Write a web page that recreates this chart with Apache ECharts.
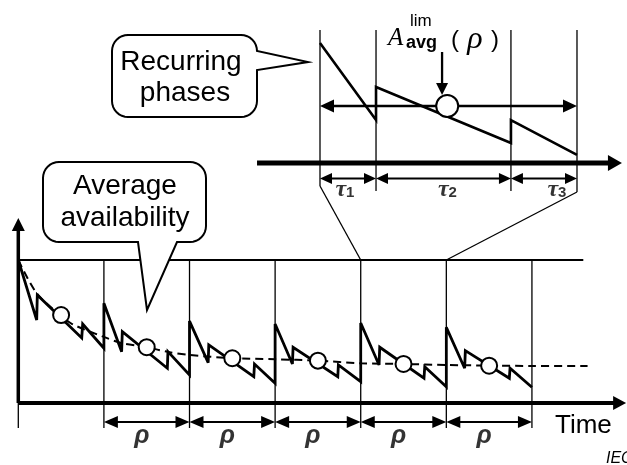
<!DOCTYPE html>
<html><head><meta charset="utf-8">
<script src="https://cdn.jsdelivr.net/npm/echarts@6/dist/echarts.min.js"></script>
<style>html,body{margin:0;padding:0;background:#fff}#c{width:627px;height:465px}</style>
</head><body><div id="c"></div>
<script>
// ---------------- data (time in units of the period rho, availability) ----------------
const periodBounds = [0, 1, 2, 3, 4, 5, 6];
const rhoLabels = ['ρ', 'ρ', 'ρ', 'ρ', 'ρ'];
const mainTime = [0, 0.215, 0.222, 0.741, 0.752, 1,
  1, 1.207, 1.215, 1.741, 1.748, 2,
  2, 2.218, 2.225, 2.751, 2.759, 3,
  3, 3.202, 3.210, 3.732, 3.739, 4,
  4, 4.214, 4.222, 4.739, 4.748, 5,
  5, 5.214, 5.222, 5.736, 5.744, 6];
const mainAvail = [1.000, 0.580, 0.755, 0.455, 0.552, 0.383,
  0.697, 0.359, 0.499, 0.243, 0.359, 0.196,
  0.573, 0.282, 0.406, 0.184, 0.273, 0.138,
  0.552, 0.273, 0.390, 0.184, 0.266, 0.149,
  0.559, 0.266, 0.390, 0.173, 0.254, 0.114,
  0.529, 0.243, 0.366, 0.173, 0.243, 0.110];
const avgTime = [0, 0.215, 0.49, 0.63, 1, 1.2, 1.5, 1.75, 2, 2.5, 3, 3.5, 4, 4.5, 5, 5.5, 6, 6.65];
const avgAvail = [1.0, 0.767, 0.615, 0.552, 0.462, 0.420, 0.390, 0.357, 0.336, 0.313, 0.306, 0.296, 0.278, 0.273, 0.266, 0.262, 0.259, 0.259];
const markTime = [0.5, 1.5, 2.5, 3.5, 4.5, 5.5];
const markAvail = [0.615, 0.390, 0.313, 0.296, 0.273, 0.261];
const topLevel = 1.0;
// inset: one recurring period
const insetTime = [0, 0.218, 0.218, 0.743, 0.743, 1];
const insetAvail = [1.0, 0.358, 0.633, 0.167, 0.358, 0.067];
const tauBounds = [0, 0.218, 0.743, 1];
const tauNames = ['1', '2', '3'];
const tauLabelTime = [0.097, 0.496, 0.922];
const insetAvgLevel = 0.475;
const insetMarkTime = 0.495;

// ---------------- layout constants ----------------
const FONT = "Liberation Sans";
const SERIF = "Liberation Serif";
const RHO_ARROW_Y = -0.133, RHO_LABEL_Y = -0.235, VLINE_BOTTOM = -0.175, YAXIS_TOP = 1.294, TOPLINE_END = 6.6, XAXIS_END = 7.1;
const INSET_VTOP = 1.108, INSET_VBOTTOM = [-0.192, -0.233, -0.233, -0.242];
const TAU_ARROW_Y = -0.129, TAU_LABEL_Y = -0.219, INSET_AXIS = [-0.245, 1.175];
const LABEL_ARROW = [0.475, 0.925, 0.567];

function arrowChildren(p1, p2, o) {
  const dx = p2[0] - p1[0], dy = p2[1] - p1[1], L = Math.hypot(dx, dy);
  const ux = dx / L, uy = dy / L, nx = -uy, ny = ux;
  const ch = [];
  let a = p1.slice(), b = p2.slice();
  const head = (tip, d) => {
    const bx = tip[0] - d[0] * o.hl, by = tip[1] - d[1] * o.hl;
    return { type: 'polygon', shape: { points: [tip, [bx + nx * o.hw, by + ny * o.hw], [bx - nx * o.hw, by - ny * o.hw]] }, style: { fill: '#000' } };
  };
  if (o.start) { ch.push(head(p1, [-ux, -uy])); a = [p1[0] + ux * o.hl * 0.8, p1[1] + uy * o.hl * 0.8]; }
  if (o.end) { ch.push(head(p2, [ux, uy])); b = [p2[0] - ux * o.hl * 0.8, p2[1] - uy * o.hl * 0.8]; }
  ch.unshift({ type: 'line', shape: { x1: a[0], y1: a[1], x2: b[0], y2: b[1] }, style: { stroke: '#000', lineWidth: o.lw } });
  return ch;
}
function arrowSeries(g, data, o, z) {
  return { type: 'custom', xAxisIndex: g, yAxisIndex: g, clip: false, silent: true, z: z || 5, data,
    renderItem(params, api) {
      const p1 = api.coord([api.value(0), api.value(1)]), p2 = api.coord([api.value(2), api.value(3)]);
      return { type: 'group', children: arrowChildren(p1, p2, o) };
    } };
}
function segSeries(g, data, lw, z) {
  return { type: 'custom', xAxisIndex: g, yAxisIndex: g, clip: false, silent: true, z: z || 1, data,
    renderItem(params, api) {
      const p1 = api.coord([api.value(0), api.value(1)]), p2 = api.coord([api.value(2), api.value(3)]);
      return { type: 'line', shape: { x1: p1[0], y1: p1[1], x2: p2[0], y2: p2[1] }, style: { stroke: '#000', lineWidth: lw } };
    } };
}

const rhoPairs = [], rhoCenters = [];
for (let i = 1; i < periodBounds.length - 1; i++) {
  rhoPairs.push([periodBounds[i], RHO_ARROW_Y, periodBounds[i + 1], RHO_ARROW_Y]);
  rhoCenters.push([(periodBounds[i] + periodBounds[i + 1]) / 2, RHO_LABEL_Y]);
}
const tauPairs = [];
for (let i = 0; i < tauBounds.length - 1; i++) tauPairs.push([tauBounds[i], TAU_ARROW_Y, tauBounds[i + 1], TAU_ARROW_Y]);

const series = [
  // ---- main chart ----
  segSeries(0, periodBounds.map(t => [t, topLevel, t, VLINE_BOTTOM]), 1.3, 1),
  segSeries(0, [[0, topLevel, TOPLINE_END, topLevel]], 2, 1),
  { type: 'line', xAxisIndex: 0, yAxisIndex: 0, symbol: 'none', smooth: 0.3, silent: true, z: 2,
    data: avgTime.map((t, i) => [t, avgAvail[i]]), lineStyle: { color: '#000', width: 2, type: [8, 5] } },
  { type: 'line', xAxisIndex: 0, yAxisIndex: 0, symbol: 'none', silent: true, z: 3,
    data: mainTime.map((t, i) => [t, mainAvail[i]]), lineStyle: { color: '#000', width: 2.8, join: 'miter', miterLimit: 4 } },
  { type: 'scatter', xAxisIndex: 0, yAxisIndex: 0, symbol: 'circle', symbolSize: 16, silent: true, z: 4,
    data: markTime.map((t, i) => [t, markAvail[i]]), itemStyle: { color: '#fff', borderColor: '#000', borderWidth: 2, opacity: 1 } },
  arrowSeries(0, [[0, 0, 0, YAXIS_TOP]], { lw: 3.5, hl: 13, hw: 6.5, end: true }, 6),
  arrowSeries(0, [[0, 0, XAXIS_END, 0]], { lw: 4, hl: 13, hw: 7, end: true }, 6),
  arrowSeries(0, rhoPairs, { lw: 2.2, hl: 14, hw: 6, start: true, end: true }, 5),
  { type: 'scatter', xAxisIndex: 0, yAxisIndex: 0, symbolSize: 1, silent: true, z: 5,
    data: rhoCenters, itemStyle: { color: 'rgba(0,0,0,0)' },
    label: { show: true, position: 'inside', offset: [-5, 0], formatter: p => rhoLabels[p.dataIndex],
      fontFamily: FONT, fontStyle: 'italic', fontWeight: 'bold', fontSize: 25, color: '#000' } },
  // ---- inset ----
  segSeries(1, tauBounds.map((t, i) => [t, INSET_VTOP, t, INSET_VBOTTOM[i]]), 1.3, 1),
  arrowSeries(1, [[INSET_AXIS[0], 0, INSET_AXIS[1], 0]], { lw: 5, hl: 14, hw: 8, end: true }, 6),
  { type: 'line', xAxisIndex: 1, yAxisIndex: 1, symbol: 'none', silent: true, z: 3,
    data: insetTime.map((t, i) => [t, insetAvail[i]]), lineStyle: { color: '#000', width: 2.6, join: 'miter', miterLimit: 4 } },
  arrowSeries(1, [[tauBounds[0], insetAvgLevel, tauBounds[tauBounds.length - 1], insetAvgLevel]], { lw: 2.7, hl: 14, hw: 6.5, start: true, end: true }, 4),
  { type: 'scatter', xAxisIndex: 1, yAxisIndex: 1, symbol: 'circle', symbolSize: 22, silent: true, z: 5,
    data: [[insetMarkTime, insetAvgLevel]], itemStyle: { color: '#fff', borderColor: '#000', borderWidth: 2, opacity: 1 } },
  arrowSeries(1, [[LABEL_ARROW[0], LABEL_ARROW[1], LABEL_ARROW[0], LABEL_ARROW[2]]], { lw: 2.3, hl: 12, hw: 6, end: true }, 6),
  arrowSeries(1, tauPairs, { lw: 2, hl: 12, hw: 5.5, start: true, end: true }, 5),
  { type: 'scatter', xAxisIndex: 1, yAxisIndex: 1, symbolSize: 1, silent: true, z: 5,
    data: tauLabelTime.map(t => [t, TAU_LABEL_Y]), itemStyle: { color: 'rgba(0,0,0,0)' },
    label: { show: true, position: 'inside', formatter: p => '{t|τ}{s|' + tauNames[p.dataIndex] + '}',
      rich: {
        t: { fontFamily: SERIF, fontStyle: 'italic', fontWeight: 'bold', fontSize: 24, lineHeight: 22, verticalAlign: 'top', color: '#000' },
        s: { fontFamily: FONT, fontWeight: 'bold', fontSize: 15, lineHeight: 14, padding: [12, 0, 0, 0], verticalAlign: 'bottom', color: '#000' }
      } } }
];

const chart = echarts.init(document.getElementById('c'), null, { renderer: 'canvas' });
chart.setOption({
  animation: false,
  backgroundColor: '#fff',
  grid: [
    { left: 18.3, top: 217.1, width: 607.8, height: 243.1, containLabel: false, outerBoundsMode: 'none' },
    { left: 255.75, top: 19, width: 367.5, height: 186, containLabel: false, outerBoundsMode: 'none' }
  ],
  xAxis: [
    { type: 'value', gridIndex: 0, min: 0, max: XAXIS_END, show: false },
    { type: 'value', gridIndex: 1, min: -0.25, max: 1.18, show: false }
  ],
  yAxis: [
    { type: 'value', gridIndex: 0, min: -0.4, max: 1.3, show: false },
    { type: 'value', gridIndex: 1, min: -0.35, max: 1.2, show: false }
  ],
  series
});

// ---- annotations ----
function calloutPoints(l, t, r, b, rad, side, pA, tip, pB) {
  const pts = [];
  const arc = (cx, cy, a0, a1) => { for (let k = 0; k <= 8; k++) { const a = a0 + (a1 - a0) * k / 8; pts.push([cx + rad * Math.cos(a), cy + rad * Math.sin(a)]); } };
  arc(r - rad, t + rad, -Math.PI / 2, 0);
  if (side === 'right') pts.push([r, pA], tip, [r, pB]);
  arc(r - rad, b - rad, 0, Math.PI / 2);
  if (side === 'bottom') pts.push([pA, b], tip, [pB, b]);
  arc(l + rad, b - rad, Math.PI / 2, Math.PI);
  arc(l + rad, t + rad, Math.PI, 1.5 * Math.PI);
  return pts;
}
const txt = (text, x, y, size, o) => {
  o = o || {};
  return { type: 'text', x, y, z: 20,
    style: { text, fontSize: size, fontFamily: o.family || FONT, fontStyle: o.style || 'normal', fontWeight: o.weight || 'normal',
      fill: '#000', align: o.align || 'center', verticalAlign: 'middle' } };
};
const a1 = chart.convertToPixel({ gridIndex: 1 }, [tauBounds[0], INSET_VBOTTOM[0]]);
const b1 = chart.convertToPixel({ gridIndex: 0 }, [periodBounds[4], topLevel]);
const a2 = chart.convertToPixel({ gridIndex: 1 }, [tauBounds[3], INSET_VBOTTOM[3]]);
const b2 = chart.convertToPixel({ gridIndex: 0 }, [periodBounds[5], topLevel]);
chart.setOption({ graphic: { elements: [
  { type: 'polyline', z: 1, shape: { points: [a1, b1] }, style: { stroke: '#000', lineWidth: 1.3, fill: null } },
  { type: 'polyline', z: 1, shape: { points: [a2, b2] }, style: { stroke: '#000', lineWidth: 1.3, fill: null } },
  { type: 'polygon', z: 15, shape: { points: calloutPoints(112, 35, 257, 117, 16, 'right', 51, [308, 62], 70) },
    style: { fill: '#fff', stroke: '#000', lineWidth: 2 } },
  { type: 'polygon', z: 15, shape: { points: calloutPoints(43, 162, 206, 242, 16, 'bottom', 177, [147, 310], 138) },
    style: { fill: '#fff', stroke: '#000', lineWidth: 2 } },
  txt('Recurring', 181, 62, 28),
  txt('phases', 185, 93, 28),
  txt('Average', 125, 186, 28),
  txt('availability', 125, 218, 28),
  txt('Time', 555, 426, 26, { align: 'left' }),
  txt('IEC', 606, 459, 16, { align: 'left', style: 'italic' }),
  txt('A', 388, 38, 25, { align: 'left', style: 'italic', family: SERIF }),
  txt('lim', 410, 21, 17, { align: 'left' }),
  txt('avg', 406, 43, 18, { align: 'left', weight: 'bold' }),
  txt('(', 451, 40, 24, { align: 'left' }),
  txt('ρ', 475, 40, 32, { style: 'italic', family: SERIF }),
  txt(')', 499, 40, 24, { align: 'right' })
] } });
</script>
</body></html>
